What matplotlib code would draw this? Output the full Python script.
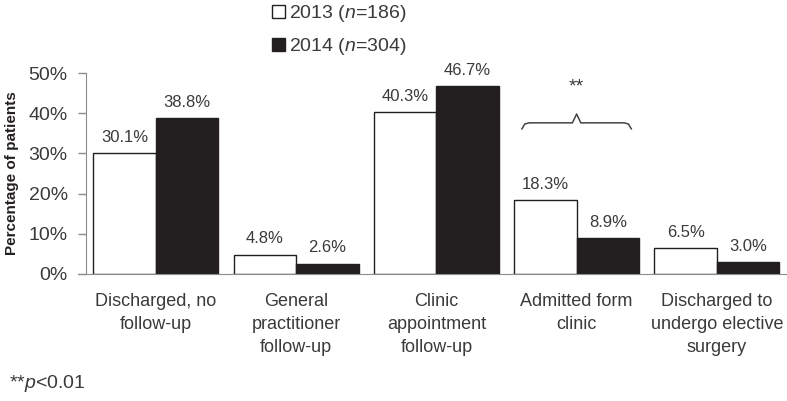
import numpy as np
import matplotlib
matplotlib.use("Agg")
import matplotlib.pyplot as plt
from matplotlib.patches import Patch

plt.rcParams['font.family'] = ['Liberation Sans', 'DejaVu Sans']
plt.rcParams['mathtext.fontset'] = 'custom'
plt.rcParams['mathtext.rm'] = 'Liberation Sans'
plt.rcParams['mathtext.it'] = 'Liberation Sans:italic'

categories = ["Discharged, no\nfollow-up", "General\npractitioner\nfollow-up",
              "Clinic\nappointment\nfollow-up", "Admitted form\nclinic",
              "Discharged to\nundergo elective\nsurgery"]
vals_2013 = [30.1, 4.8, 40.3, 18.3, 6.5]
vals_2014 = [38.8, 2.6, 46.7, 8.9, 3.0]
series_labels = ["2013 ($n$=186)", "2014 ($n$=304)"]
yticks = [0, 10, 20, 30, 40, 50]
sig_group = 3

txt = '#3a3a3a'
grey = '#8c8c8c'
dark = '#231f20'

fig = plt.figure(figsize=(7.87, 4.01), dpi=100)
ax = fig.add_axes([78/787, 127/401, 709/787, 201/401])
# spine position first: it resets the ticks
ax.spines['left'].set_position(('data', -0.5))

x = np.arange(len(categories))
w = 0.445
ax.bar(x - w/2, vals_2013, w, color='white', edgecolor=dark, linewidth=1)
ax.bar(x + w/2, vals_2014, w, color=dark, edgecolor=dark, linewidth=1)

for xi, v in zip(x - w/2, vals_2013):
    ax.annotate(f"{v:.1f}%", (xi, v), xytext=(0, 6), textcoords='offset points',
                ha='center', va='bottom', fontsize=12, color=txt)
for xi, v in zip(x + w/2, vals_2014):
    ax.annotate(f"{v:.1f}%", (xi, v), xytext=(0, 6), textcoords='offset points',
                ha='center', va='bottom', fontsize=12, color=txt)

ax.set_xlim(-0.555, 4.5)
ax.set_ylim(0, 50)
ax.set_yticks(yticks)
ax.set_yticklabels([f"{t}%" for t in yticks], fontsize=14, color=txt)
ax.set_xticks(x)
ax.set_xticklabels(categories, fontsize=13, color=txt, linespacing=1.45)
ax.tick_params(axis='x', length=0, pad=14)
ax.tick_params(axis='y', length=6, color=grey, width=1, pad=7)
ax.spines['left'].set_color(grey)
ax.spines['bottom'].set_color(grey)
ax.spines['top'].set_visible(False)
ax.spines['right'].set_visible(False)
ax.set_ylabel("Percentage of patients", fontsize=11, fontweight='bold', color=dark,
              va='center')
ax.yaxis.set_label_coords((12 - 78) / 709, 0.5)

# curly brace over the significant group
c = x[sig_group]
hw = 0.39
y0 = 37.6
bx = [c - hw, c - hw + 0.02, c - hw + 0.05, c - 0.03, c, c + 0.03, c + hw - 0.05, c + hw - 0.02, c + hw]
by = [y0 - 1.5, y0 - 0.3, y0, y0, y0 + 2.2, y0, y0, y0 - 0.3, y0 - 1.5]
ax.plot(bx, by, color='#444444', linewidth=1.1, clip_on=False)
ax.text(c, y0 + 9, "**", ha='center', va='center', fontsize=14, color=txt)

handles = [Patch(facecolor='white', edgecolor=dark, linewidth=1),
           Patch(facecolor=dark, edgecolor=dark)]
fig.legend(handles, series_labels, loc='upper left', bbox_to_anchor=(254/787, 1.035),
           frameon=False, fontsize=14, handlelength=0.7, handleheight=0.7,
           handletextpad=0.2, labelspacing=0.6, labelcolor=txt)

fig.text(9/787, 1 - 383/401, "**$p$<0.01", fontsize=14, color=txt, va='center')

fig.savefig("out.png", dpi=100)
